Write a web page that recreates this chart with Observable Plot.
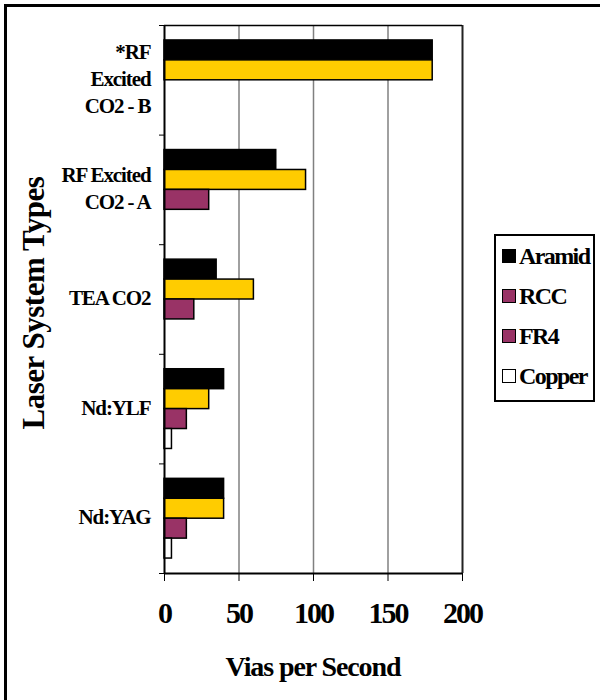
<!DOCTYPE html>
<html>
<head>
<meta charset="utf-8">
<script src="https://cdn.jsdelivr.net/npm/d3@7"></script>
<script src="https://cdn.jsdelivr.net/npm/@observablehq/plot@0.6"></script>
<style>
  html, body { margin: 0; padding: 0; background: #fff; }
  #wrap { position: relative; width: 600px; height: 700px; overflow: hidden; font-family: "Liberation Serif", "Times New Roman", serif; font-weight: bold; }
  #frame { position: absolute; left: 4px; top: 4px; width: 700px; height: 800px; border-top: 3px solid #000; border-left: 3px solid #000; }
  #chart { position: absolute; left: 0; top: 0; }
  #chart svg text { letter-spacing: -2px; }
  #chart svg g[aria-label="text"] text { letter-spacing: -1.1px; }
  #ytitle { position: absolute; left: 33px; top: 303px; transform: translate(-50%, -50%) rotate(-90deg); font-size: 31px; line-height: 31px; letter-spacing: -0.5px; white-space: nowrap; }
  #xtitle { position: absolute; left: 164px; width: 298px; top: 653px; text-align: center; font-size: 28px; line-height: 28px; letter-spacing: -1.1px; white-space: nowrap; }
  #legend { position: absolute; left: 494px; top: 234px; width: 97px; height: 164px; border: 2px solid #000; background: #fff; }
  .item { height: 40px; display: flex; align-items: center; font-size: 24px; letter-spacing: -1.6px; white-space: nowrap; }
  .sw { width: 12px; height: 12px; border: 1.5px solid #000; margin-left: 6px; margin-right: 3px; flex: none; }
</style>
</head>
<body>
<div id="wrap">
  <div id="frame"></div>
  <div id="chart"></div>
  <div id="ytitle"></div>
  <div id="xtitle"></div>
  <div id="legend"></div>
</div>
<script>
// ---- data ----
const categories = ["*RF\nExcited\nCO2 - B", "RF Excited\nCO2 - A", "TEA CO2", "Nd:YLF", "Nd:YAG"];
const series = ["Aramid", "RCC", "FR4", "Copper"];
const aramid = [180, 75, 35, 40, 40];
const rcc = [180, 95, 60, 30, 40];
const fr4 = [null, 30, 20, 15, 15];
const copper = [null, null, null, 5, 5];
const barColors = ["#000000", "#FFCC00", "#993366", "#FFFFFF"];
const legendColors = ["#000000", "#993366", "#993366", "#FFFFFF"];
const xTicks = [0, 50, 100, 150, 200];
const xTitle = "Vias per Second";
const yTitle = "Laser System Types";

// ---- build table ----
const valuesBySeries = [aramid, rcc, fr4, copper];
const rows = [];
categories.forEach((c, ci) => {
  series.forEach((s, sj) => {
    const v = valuesBySeries[sj][ci];
    if (v != null) rows.push({category: c, ci, series: s, sj, value: v});
  });
});
const labelRows = categories.map((c, i) => ({label: c, pos: i + 0.5}));

// group layout inside each category band (fractions of one band)
const groupPad = 15 / 110;
const barStep = 20 / 110;

const chart = Plot.plot({
  width: 600,
  height: 700,
  marginLeft: 164,
  marginRight: 138,
  marginTop: 25,
  marginBottom: 127,
  style: {fontFamily: "'Liberation Serif', 'Times New Roman', serif", fontWeight: "bold", fontSize: "30px", color: "#000", background: "transparent"},
  x: {type: "linear", domain: [0, 200], ticks: xTicks, tickSize: 8, tickPadding: 20, label: null},
  y: {type: "linear", domain: [0, categories.length], reverse: true, ticks: d3.range(categories.length + 1), tickSize: 5, tickFormat: () => "", label: null},
  color: {domain: series, range: barColors},
  marks: [
    Plot.ruleX(xTicks.slice(1, -1), {stroke: "#808080", strokeWidth: 1.5}),
    Plot.ruleX([200], {stroke: "#222", strokeWidth: 2}),
    Plot.ruleY([0], {stroke: "#000", strokeWidth: 1.5}),
    Plot.rect(rows, {
      x1: () => 0,
      x2: "value",
      y1: d => d.ci + groupPad + d.sj * barStep,
      y2: d => d.ci + groupPad + (d.sj + 1) * barStep,
      fill: "series",
      stroke: "#000",
      strokeWidth: 1.5
    }),
    Plot.ruleX([0], {stroke: "#000", strokeWidth: 2}),
    Plot.ruleY([categories.length], {stroke: "#000", strokeWidth: 2}),
    Plot.text(labelRows, {
      frameAnchor: "left",
      y: "pos",
      text: "label",
      textAnchor: "end",
      dx: -14,
      dy: -3,
      fontSize: 21,
      lineHeight: 1.3
    })
  ]
});
document.getElementById("chart").appendChild(chart);

document.getElementById("xtitle").textContent = xTitle;
document.getElementById("ytitle").textContent = yTitle;

const legend = document.getElementById("legend");
series.forEach((s, i) => {
  const item = document.createElement("div");
  item.className = "item";
  const sw = document.createElement("span");
  sw.className = "sw";
  sw.style.background = legendColors[i];
  const label = document.createElement("span");
  label.textContent = s;
  item.appendChild(sw);
  item.appendChild(label);
  legend.appendChild(item);
});
</script>
</body>
</html>
